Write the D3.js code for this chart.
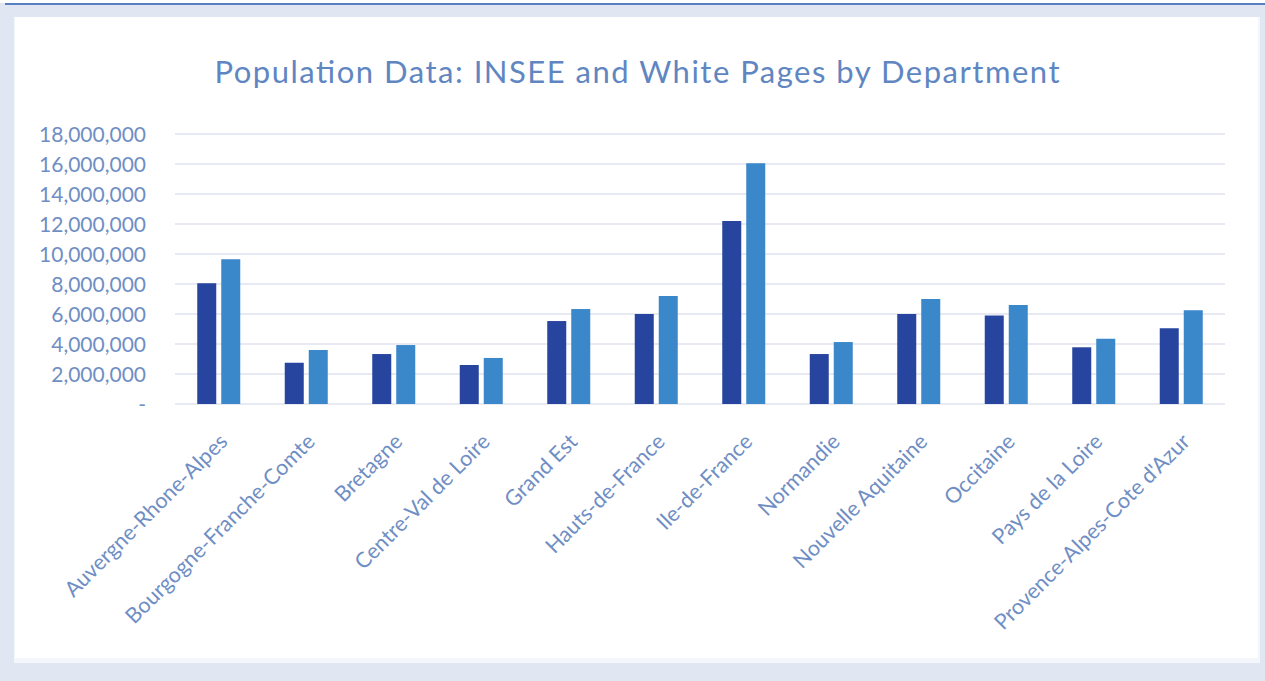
<!DOCTYPE html>
<html><head><meta charset="utf-8">
<script src="https://cdn.jsdelivr.net/npm/d3@7"></script>
<style>
html,body{margin:0;padding:0;background:#e1e6f3;}
svg{display:block;}
</style></head>
<body>
<svg id="chart" width="1265" height="681"></svg>
<script>
const categories = ["Auvergne-Rhone-Alpes","Bourgogne-Franche-Comte","Bretagne","Centre-Val de Loire","Grand Est","Hauts-de-France","Ile-de-France","Normandie","Nouvelle Aquitaine","Occitaine","Pays de la Loire","Provence-Alpes-Cote d'Azur"];
const inseeValues = [8050000, 2750000, 3330000, 2600000, 5530000, 6000000, 12200000, 3330000, 6000000, 5900000, 3780000, 5050000];
const whitePagesValues = [9650000, 3600000, 3930000, 3070000, 6330000, 7200000, 16050000, 4130000, 7000000, 6600000, 4350000, 6250000];
const yTicks = [0, 2000000, 4000000, 6000000, 8000000, 10000000, 12000000, 14000000, 16000000, 18000000];
const seriesNames = ["INSEE", "White Pages"];
const titleText = "Population Data: INSEE and White Pages by Department";

const svg = d3.select("#chart");
const W = 1265, H = 681;
const textColor = "#6f8ec4";
const font = "Lato, 'Open Sans', sans-serif";

// background
svg.append("rect").attr("x",0).attr("y",0).attr("width",W).attr("height",H).attr("fill","#e1e6f3");
svg.append("rect").attr("x",0).attr("y",0).attr("width",W).attr("height",3).attr("fill","#ffffff");
svg.append("line").attr("x1",5).attr("x2",W).attr("y1",4).attr("y2",4).attr("stroke","#2a5db0").attr("stroke-width",1.5);
svg.append("rect").attr("x",14).attr("y",17).attr("width",1246).attr("height",646).attr("fill","#f3f6fb");
svg.append("rect").attr("x",15).attr("y",17).attr("width",1243).attr("height",641).attr("fill","#ffffff");

const m = {left:175, right:1225, top:134, bottom:404};
const x = d3.scaleBand().domain(categories).range([m.left, m.right]);
const y = d3.scaleLinear().domain([0, 18000000]).range([m.bottom, m.top]);

// gridlines
svg.append("g").selectAll("line").data(yTicks).join("line")
  .attr("x1", m.left).attr("x2", m.right)
  .attr("y1", d=>y(d)).attr("y2", d=>y(d))
  .attr("stroke", "#dfe3ee").attr("stroke-width", 1.5);

// y axis
const yAxis = d3.axisLeft(y).tickValues(yTicks).tickSize(0).tickPadding(0)
  .tickFormat(d => d === 0 ? "-" : d3.format(",")(d));
const gy = svg.append("g").attr("transform", `translate(146,0)`).call(yAxis);
gy.select(".domain").remove();
gy.selectAll("text").attr("fill", textColor).attr("font-size", 21).attr("font-family", font).attr("dy","0.35em");

// bars
const barW = 19, gap = 5;
const colors = ["#27449e", "#3a87c9"];
const seriesData = [inseeValues, whitePagesValues];
seriesData.forEach((vals, si) => {
  svg.append("g").selectAll("rect").data(categories).join("rect")
    .attr("x", (c) => x(c) + x.bandwidth()/2 - barW - gap/2 + si*(barW+gap))
    .attr("y", (c,i) => y(vals[i]))
    .attr("width", barW)
    .attr("height", (c,i) => y(0) - y(vals[i]))
    .attr("fill", colors[si]);
});

// x labels
svg.append("g").selectAll("text").data(categories).join("text")
  .attr("transform", c => `translate(${x(c) + x.bandwidth()/2 + 10},${m.bottom + 39}) rotate(-45)`)
  .attr("text-anchor", "end")
  .attr("fill", textColor).attr("font-size", 21.5).attr("font-family", font)
  .text(c => c);

// title
svg.append("text").attr("x", 637).attr("y", 83).attr("text-anchor","middle")
  .attr("fill", "#6086c2").attr("font-size", 31).attr("font-family", font)
  .attr("textLength", 845).attr("lengthAdjust", "spacing")
  .text(titleText);
</script>
</body></html>
